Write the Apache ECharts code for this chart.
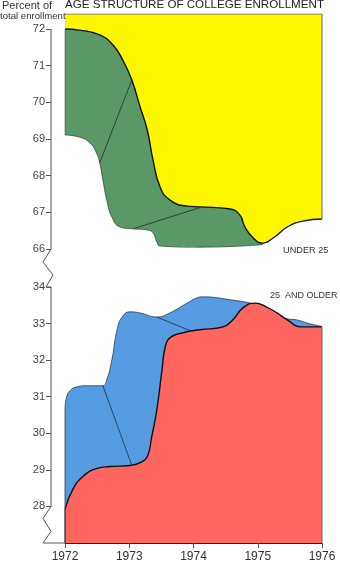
<!DOCTYPE html>
<html>
<head>
<meta charset="utf-8">
<script src="https://cdn.jsdelivr.net/npm/echarts@6/dist/echarts.min.js"></script>
<style>
  html, body { margin: 0; padding: 0; background: #fff; }
  #chart { width: 340px; height: 563px; }
</style>
</head>
<body>
<div id="chart"></div>
<script>
// ---- Data -------------------------------------------------------------
const yearTicks = [1972, 1973, 1974, 1975, 1976];
const under25Ticks = [66, 67, 68, 69, 70, 71, 72];
const olderTicks = [28, 29, 30, 31, 32, 33, 34];

// Under 25: share of total enrollment (front edge of the ribbon)
const under25Front = [
  [1972.00, 72.00], [1972.23, 71.97], [1972.54, 71.84], [1972.75, 71.56],
  [1972.90, 71.15], [1973.04, 70.61], [1973.17, 69.87], [1973.28, 69.25],
  [1973.37, 68.43], [1973.48, 67.69], [1973.63, 67.34], [1973.90, 67.17],
  [1974.10, 67.15], [1974.57, 67.09], [1974.72, 66.93], [1974.80, 66.60],
  [1974.93, 66.30], [1975.08, 66.16], [1975.24, 66.30], [1975.46, 66.60],
  [1975.70, 66.76], [1976.00, 66.82]
];
// Under 25: back edge of the ribbon
const under25Back = [
  [1972.00, 69.11], [1972.23, 69.05], [1972.39, 68.89], [1972.49, 68.62],
  [1972.54, 68.35], [1972.59, 67.88], [1972.65, 67.34], [1972.73, 66.87],
  [1972.86, 66.60], [1973.06, 66.55], [1973.28, 66.52], [1973.37, 66.44],
  [1973.43, 66.19], [1973.48, 66.08], [1974.10, 66.05], [1975.08, 66.12]
];
// Fold lines across the under-25 ribbon
const under25FoldA = [[1973.04, 70.61], [1972.54, 68.35]];
const under25FoldB = [[1973.06, 66.55], [1974.10, 67.13]];

// 25 and older: front edge of the ribbon
const olderFront = [
  [1972.00, 27.92], [1972.12, 28.46], [1972.28, 28.82], [1972.50, 29.04],
  [1972.70, 29.09], [1973.01, 29.12], [1973.17, 29.20], [1973.28, 29.36],
  [1973.35, 29.91], [1973.43, 30.65], [1973.51, 31.74], [1973.56, 32.36],
  [1973.63, 32.61], [1973.84, 32.75], [1974.10, 32.83], [1974.46, 32.91],
  [1974.61, 33.10], [1974.77, 33.43], [1974.96, 33.56], [1975.14, 33.45],
  [1975.30, 33.29], [1975.46, 33.10], [1975.66, 32.91], [1975.81, 32.91],
  [1976.00, 32.91]
];
// 25 and older: back edge of the ribbon
const olderBack = [
  [1972.00, 30.65], [1972.03, 31.02], [1972.10, 31.20], [1972.19, 31.27],
  [1972.34, 31.30], [1972.59, 31.30], [1972.65, 31.46], [1972.73, 32.01],
  [1972.81, 32.83], [1972.89, 33.18], [1973.01, 33.32], [1973.17, 33.29],
  [1973.43, 33.18], [1973.63, 33.29], [1973.90, 33.56], [1974.05, 33.70],
  [1974.15, 33.73], [1974.57, 33.65], [1974.93, 33.54], [1975.14, 33.40],
  [1975.30, 33.24], [1975.46, 33.13], [1975.61, 33.10], [1975.80, 33.00],
  [1976.00, 32.92]
];
// Fold lines across the 25-and-older ribbon
const olderFoldA = [[1972.59, 31.30], [1973.04, 29.12]];
const olderFoldB = [[1973.43, 33.18], [1973.95, 32.80]];

// Panel extents
const TOP_MAX = 72.41;
const TOP_MIN = 66;
const BOTTOM_MAX = 34;
const BOTTOM_MIN = 27;

// ---- Styling ----------------------------------------------------------
const FONT = 'Liberation Sans, Arial, Helvetica, sans-serif';
const YELLOW = '#fff700';
const GREEN = '#5b9868';
const BLUE = '#559be0';
const RED = '#ff665f';

const AXIS_LEFT = 65;     // grid left (year 1972)
const AXIS_OFFSET = 14;   // y axis sits left of the first year

const chart = echarts.init(document.getElementById('chart'), null, { renderer: 'canvas' });

function edge(data, color, width, xi, yi, z) {
  return {
    type: 'line', data, xAxisIndex: xi, yAxisIndex: yi, symbol: 'none',
    lineStyle: { color, width }, z, silent: true, animation: false
  };
}

function ribbon(data, fill, stroke, width, origin, xi, yi, z) {
  return {
    type: 'line', data, xAxisIndex: xi, yAxisIndex: yi, symbol: 'none',
    smooth: 0.5,
    lineStyle: { color: stroke, width },
    areaStyle: { color: fill, opacity: 1, origin },
    z, silent: true, animation: false
  };
}

const yAxisBase = {
  type: 'value',
  offset: AXIS_OFFSET,
  axisLine: { show: false },
  splitLine: { show: false },
  axisTick: { show: true, length: 5, lineStyle: { color: '#555', width: 1 } },
  axisLabel: { fontSize: 11, color: '#444', margin: 6, fontFamily: FONT }
};

const option = {
  animation: false,
  backgroundColor: '#fff',
  title: [
    { text: 'AGE STRUCTURE OF COLLEGE ENROLLMENT', left: 65, top: -1, padding: 0,
      textStyle: { fontSize: 11.6, fontWeight: 'normal', color: '#222', fontFamily: FONT } },
    { text: 'Percent of', left: 2, top: 0, padding: 0,
      textStyle: { fontSize: 11, fontWeight: 'normal', color: '#333', fontFamily: FONT } },
    { text: 'total enrollment', left: 0, top: 11, padding: 0,
      textStyle: { fontSize: 9.6, fontWeight: 'normal', color: '#333', fontFamily: FONT } },
    { text: 'UNDER 25', left: 283, top: 246, padding: 0,
      textStyle: { fontSize: 9.2, fontWeight: 'normal', color: '#333', fontFamily: FONT } },
    { text: '25  AND OLDER', left: 270, top: 291, padding: 0,
      textStyle: { fontSize: 9, fontWeight: 'normal', color: '#333', fontFamily: FONT } }
  ],
  grid: [
    { left: AXIS_LEFT, right: 18, top: 14, height: 235 },
    { left: AXIS_LEFT, right: 18, top: 287, height: 257 }
  ],
  xAxis: [
    { type: 'value', gridIndex: 0, min: 1972, max: 1976, show: false },
    { type: 'value', gridIndex: 1, min: 1972, max: 1976, interval: 1,
      axisLine: { show: true, lineStyle: { color: '#222', width: 1 } },
      axisTick: { show: true, length: 5, lineStyle: { color: '#555' }, customValues: yearTicks },
      axisLabel: { fontSize: 12, color: '#333', margin: 8, fontFamily: FONT,
        customValues: yearTicks, formatter: v => String(v) },
      splitLine: { show: false } }
  ],
  yAxis: [
    Object.assign({}, yAxisBase, {
      gridIndex: 0, min: TOP_MIN, max: TOP_MAX,
      axisTick: Object.assign({}, yAxisBase.axisTick, { customValues: under25Ticks }),
      axisLabel: Object.assign({}, yAxisBase.axisLabel, { customValues: under25Ticks })
    }),
    Object.assign({}, yAxisBase, {
      gridIndex: 1, min: BOTTOM_MIN, max: BOTTOM_MAX,
      axisTick: Object.assign({}, yAxisBase.axisTick, { customValues: olderTicks }),
      axisLabel: Object.assign({}, yAxisBase.axisLabel, { customValues: olderTicks })
    })
  ],
  series: [
    // Under 25 ribbon: back face, then front face over it
    ribbon(under25Back, GREEN, '#2f4a35', 0.8, 'end', 0, 0, 2),
    ribbon(under25Front, YELLOW, '#111', 1.4, 'end', 0, 0, 3),
    edge(under25FoldA, '#1e2e22', 0.8, 0, 0, 4),
    edge(under25FoldB, '#1e2e22', 0.8, 0, 0, 4),
    edge([[1972, 72], [1972, 69.11]], '#556', 0.6, 0, 0, 4),
    edge([[1972, TOP_MAX], [1976, TOP_MAX], [1976, 66.82]], '#666', 1, 0, 0, 4),

    // 25 and older ribbon
    ribbon(olderBack, BLUE, '#2a3f55', 0.8, 'start', 1, 1, 2),
    ribbon(olderFront, RED, '#111', 1.4, 'start', 1, 1, 3),
    edge(olderFoldA, '#1f2f40', 0.8, 1, 1, 4),
    edge(olderFoldB, '#1f2f40', 0.8, 1, 1, 4),
    edge([[1972, 27.92], [1972, 30.65]], '#334', 0.8, 1, 1, 4),
    edge([[1972, BOTTOM_MIN], [1972, 27.92]], '#222', 1.2, 1, 1, 4),
    edge([[1976, BOTTOM_MIN], [1976, 32.91]], '#666', 1, 1, 1, 4)
  ]
};

chart.setOption(option);

// Left axis line with break marks between and below the two panels
const ax = AXIS_LEFT - AXIS_OFFSET;
const yTop = chart.convertToPixel({ yAxisIndex: 0 }, 72);
const y66 = chart.convertToPixel({ yAxisIndex: 0 }, 66);
const y34 = chart.convertToPixel({ yAxisIndex: 1 }, 34);
const y28 = chart.convertToPixel({ yAxisIndex: 1 }, 28);
const yBase = chart.convertToPixel({ yAxisIndex: 1 }, BOTTOM_MIN);

chart.setOption({
  graphic: [{
    type: 'polyline',
    silent: true,
    z: 10,
    shape: {
      points: [
        [ax, yTop], [ax, y66],
        [ax - 8, y66 + 13], [ax + 2, y66 + 26], [ax - 5, y34], [ax, y34],
        [ax, y28],
        [ax - 8, y28 + 12], [ax, y28 + 25], [ax - 8, yBase], [AXIS_LEFT, yBase]
      ]
    },
    style: { stroke: '#555', lineWidth: 1, fill: null }
  }]
});
</script>
</body>
</html>
